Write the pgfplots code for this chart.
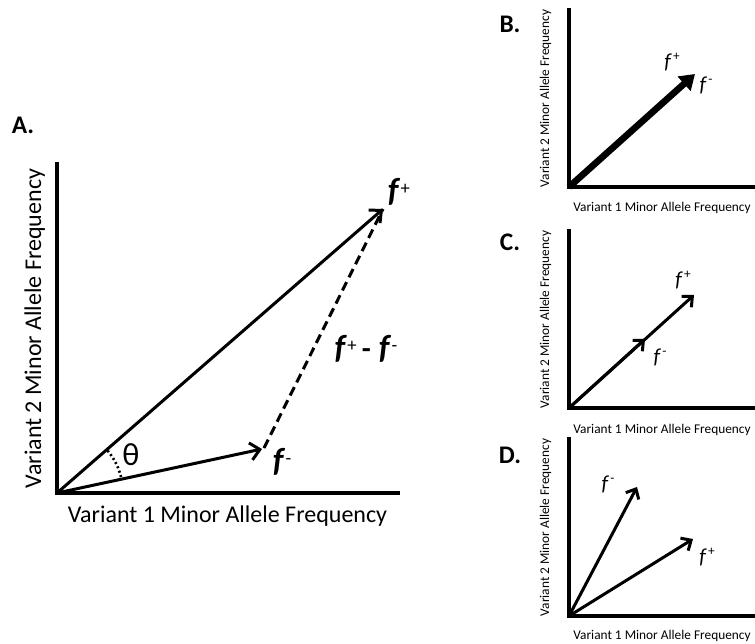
\documentclass[border=0pt]{standalone}
\usepackage{pgfplots}
\pgfplotsset{compat=1.18}
\usepackage{fontspec}
\setmainfont{Carlito}
\usetikzlibrary{arrows.meta}

\newcommand\bigf{\fontsize{18}{21}\selectfont}
\newcommand\smallf{\fontsize{10}{12}\selectfont}
\newcommand\letf{\fontsize{19}{22}\selectfont\bfseries}
\newcommand\fA[1]{{\fontsize{25}{28}\selectfont\bfseries\itshape f}\,\raisebox{0.55em}{\fontsize{14}{14}\selectfont #1}}
\newcommand\fB[1]{{\fontsize{16}{18}\selectfont\itshape f}\,\raisebox{0.55em}{\fontsize{10}{10}\selectfont #1}}

\pgfplotsset{
  vecaxis/.style={scale only axis, anchor=south west,
    axis x line=bottom, axis y line=left,
    xtick=\empty, ytick=\empty, clip=false},
  rightaxis/.style={vecaxis, width=139.5pt, height=132.75pt,
    xmin=0, xmax=186, ymin=0, ymax=177,
    axis line style={-, line width=2.6pt, line cap=rect},
    xlabel={Variant 1 Minor Allele Frequency},
    ylabel={Variant 2 Minor Allele Frequency},
    xlabel style={at={(axis cs:93,-25)}, anchor=base, font=\smallf},
    ylabel style={at={(axis cs:-20,88.5)}, anchor=base, rotate=0, font=\smallf}},
  thinvec/.style={line width=2.25pt, -{Straight Barb[length=6pt,width=11pt]}},
}

\begin{document}
\begin{tikzpicture}
\useasboundingbox (0,0) rectangle (566.25pt,482.25pt);

% Panel A
\begin{axis}[vecaxis, at={(42.75pt,112.5pt)},
  width=255.75pt, height=246.75pt,
  xmin=0, xmax=341, ymin=0, ymax=329,
  axis line style={-, line width=3pt, line cap=rect},
  xlabel={Variant 1 Minor Allele Frequency},
  ylabel={Variant 2 Minor Allele Frequency},
  xlabel style={at={(axis cs:170.5,-29)}, anchor=base, font=\bigf},
  ylabel style={at={(axis cs:-16,164.5)}, anchor=base, rotate=0, font=\bigf}]
\addplot[line width=2.25pt, -{Straight Barb[length=7pt,width=13pt]}] coordinates {(0,0) (326,284)};
\addplot[line width=2.25pt, -{Straight Barb[length=7pt,width=13pt]}] coordinates {(0,0) (205,44)};
\addplot[line width=2.25pt, dash pattern=on 7pt off 4pt] coordinates {(207,45) (326,284)};
\draw[line width=2pt, dash pattern=on 1.5pt off 2pt] (axis cs:0,0) ++(40:49.5pt) arc[start angle=40, end angle=14, radius=49.5pt];
\node at (axis cs:74,38) {\fontsize{24}{26}\selectfont θ};
\node at (axis cs:342,301) {\fA{+}};
\node at (axis cs:309,144) {\fA{+}\hspace{4pt}{\fontsize{22}{24}\selectfont\bfseries -}\hspace{6pt}\fA{-}};
\node at (axis cs:225,31) {\fA{-}};
\node[anchor=base] at (axis cs:-34,359) {\letf A.};
\end{axis}

% Panel B
\begin{axis}[rightaxis, at={(426.75pt,342pt)}]
\addplot[line width=5pt, -{Triangle[length=11pt,width=14pt]}] coordinates {(0,0) (126,113)};
\node at (axis cs:103,125) {\fB{+}};
\node at (axis cs:137,102) {\fB{-}};
\node[anchor=base] at (axis cs:-59,154) {\letf B.};
\end{axis}

% Panel C
\begin{axis}[rightaxis, at={(426.75pt,176.25pt)}]
\addplot[thinvec] coordinates {(0,0) (125,113)};
\addplot[thinvec] coordinates {(0,0) (76,69)};
\node at (axis cs:114,128) {\fB{+}};
\node at (axis cs:91,51) {\fB{-}};
\node[anchor=base] at (axis cs:-59,158) {\letf C.};
\end{axis}

% Panel D
\begin{axis}[rightaxis, at={(426.75pt,20.25pt)}, xlabel style={at={(axis cs:93,-23)}}]
\addplot[thinvec] coordinates {(0,0) (68,129)};
\addplot[thinvec] coordinates {(0,0) (124,77)};
\node at (axis cs:39,132) {\fB{-}};
\node at (axis cs:138,59) {\fB{+}};
\node[anchor=base] at (axis cs:-59,153) {\letf D.};
\end{axis}
\end{tikzpicture}
\end{document}
